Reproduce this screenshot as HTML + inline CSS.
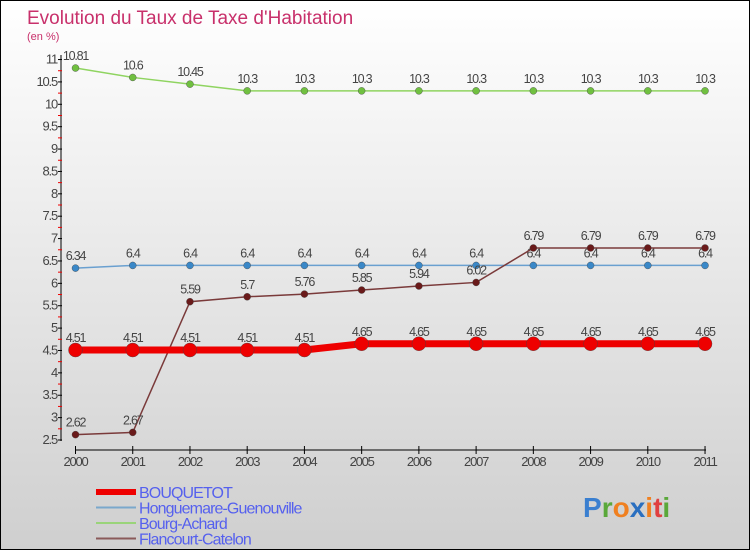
<!DOCTYPE html>
<html><head><meta charset="utf-8"><style>
html,body{margin:0;padding:0}
body{width:750px;height:550px;overflow:hidden;font-family:"Liberation Sans",sans-serif}
#frame{position:absolute;left:0;top:0;width:748px;height:548px;border:1px solid #000;background:linear-gradient(#ffffff,#cfcfcf)}
</style></head><body>
<div id="frame">
<svg width="750" height="550" style="position:absolute;left:-1px;top:-1px">
<text x="27" y="24" font-size="19" fill="#c8306b">Evolution du Taux de Taxe d'Habitation</text>
<text x="27" y="40" font-size="11" fill="#c8306b">(en %)</text>
<g id="axes"></g>
<g id="series"></g>
<g id="legend"></g>
<text x="583" y="517" font-size="28" font-weight="bold"><tspan fill="#3a7fd0">P</tspan><tspan fill="#5aa83a">r</tspan><tspan fill="#f08020">o</tspan><tspan fill="#2a6fc0">x</tspan><tspan fill="#f08020">i</tspan><tspan fill="#e04040">t</tspan><tspan fill="#5aa83a">i</tspan></text>
</svg>
</div>
<script>
const years=[2000,2001,2002,2003,2004,2005,2006,2007,2008,2009,2010,2011];
const bouquetot=[4.51,4.51,4.51,4.51,4.51,4.65,4.65,4.65,4.65,4.65,4.65,4.65];
const honguemare=[6.34,6.4,6.4,6.4,6.4,6.4,6.4,6.4,6.4,6.4,6.4,6.4];
const bourg=[10.81,10.6,10.45,10.3,10.3,10.3,10.3,10.3,10.3,10.3,10.3,10.3];
const flancourt=[2.62,2.67,5.59,5.7,5.76,5.85,5.94,6.02,6.79,6.79,6.79,6.79];
const yTicks=[2.5,3,3.5,4,4.5,5,5.5,6,6.5,7,7.5,8,8.5,9,9.5,10,10.5,11];
const NS="http://www.w3.org/2000/svg";
function X(i){return 75.5+i*57.23;}
function Y(v){return 440-(v-2.5)*44.76;}
function mk(tag,attrs,parent){const e=document.createElementNS(NS,tag);for(const k in attrs)e.setAttribute(k,attrs[k]);parent.appendChild(e);return e;}
const ax=document.getElementById('axes');
let e=mk('line',{x1:61,y1:55,x2:61,y2:441,stroke:'#000','stroke-width':1},ax);


e=mk('line',{x1:75,y1:450,x2:706,y2:450,stroke:'#000','stroke-width':1},ax);


yTicks.forEach(v=>{
  mk('line',{x1:58,y1:Y(v),x2:62,y2:Y(v),stroke:'#000'},ax);
  if(v<11) mk('line',{x1:58,y1:Y(v+0.25),x2:62,y2:Y(v+0.25),stroke:'#e00'},ax);
  const t=mk('text',{x:57,y:Y(v)+4,'font-size':13,'text-anchor':'end',fill:'#444','letter-spacing':'-1.2'},ax);
  t.textContent=String(v);
  
  
});
years.forEach((yr,i)=>{
  mk('line',{x1:X(i),y1:446,x2:X(i),y2:454,stroke:'#000'},ax);
  const t=mk('text',{x:X(i),y:466,'font-size':13,'text-anchor':'middle',fill:'#444','letter-spacing':'-1.2'},ax);
  t.textContent=String(yr);
  
  
});
const sg=document.getElementById('series');
function series(name,vals,color,dot,lw,r){
  const g=mk('g',{},sg);
  
  
  const pl=mk('polyline',{points:vals.map((v,i)=>X(i)+','+Y(v)).join(' '),fill:'none',stroke:color,'stroke-width':lw},g);
  
  
  vals.forEach((v,i)=>{
    const c=mk('circle',{cx:X(i),cy:Y(v),r:r,fill:dot,stroke:'#444','stroke-width':0.4},g);
    
    
    const t=mk('text',{x:X(i),y:Y(v)-8,'font-size':12.5,'text-anchor':'middle',fill:'#444','letter-spacing':'-1.2'},g);
    t.textContent=String(v);
    
    
  });
}
series('bourg-achard',bourg,'#8fd460','#70c040',1.5,3.5);
series('honguemare',honguemare,'#6aa0d0','#3a88c8',1.5,3.5);
series('flancourt',flancourt,'#7a3a3a','#6a1a1a',1.5,3.5);
series('bouquetot',bouquetot,'#ee0000','#ee0000',7,7);
const lg=document.getElementById('legend');
const leg=[['BOUQUETOT','#ee0000',6],['Honguemare-Guenouville','#7aa8cc',2],['Bourg-Achard','#9ad47a',2],['Flancourt-Catelon','#8a5a5a',2]];
leg.forEach((l,i)=>{
  const y=492+i*15.5;
  const ln=mk('line',{x1:96,y1:y,x2:136,y2:y,stroke:l[1],'stroke-width':l[2]},lg);
  
  
  const t=mk('text',{x:139,y:y+6,'font-size':16,fill:'#5560ee','letter-spacing':'-0.9'},lg);
  t.textContent=l[0];
  
  
});
</script>
</body></html>
